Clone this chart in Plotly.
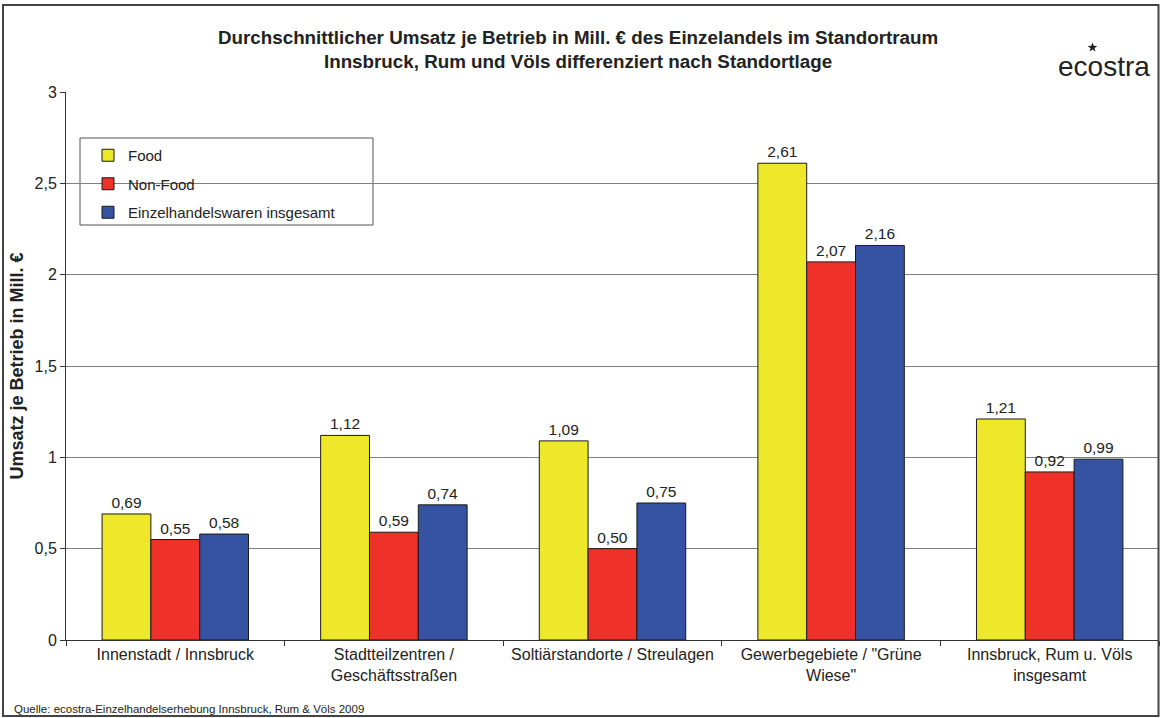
import plotly.graph_objects as go
import math

categories = ["Innenstadt / Innsbruck", "Stadtteilzentren /<br>Geschäftsstraßen",
              "Soltiärstandorte / Streulagen", "Gewerbegebiete / \"Grüne<br>Wiese\"",
              "Innsbruck, Rum u. Völs<br>insgesamt"]
food = [0.69, 1.12, 1.09, 2.61, 1.21]
non_food = [0.55, 0.59, 0.50, 2.07, 0.92]
insgesamt = [0.58, 0.74, 0.75, 2.16, 0.99]
series_names = ["Food", "Non-Food", "Einzelhandelswaren insgesamt"]
colors = ["#EDE82A", "#EE3129", "#3653A3"]

W, H = 1160, 718
L, R, T, B = 66, 1159, 92, 640
pw, ph = R - L, B - T

def px(x):
    return (x - L) / pw

def py(y):
    return (B - y) / ph

FONT = "Liberation Sans, Arial, Helvetica"

fig = go.Figure()
for i, (name, vals) in enumerate(zip(series_names, [food, non_food, insgesamt])):
    fig.add_trace(go.Bar(
        x=categories, y=vals, name=name, legendgroup=name,
        marker=dict(color=colors[i], line=dict(color="#1a1a1a", width=1)),
        text=[f"{v:.2f}".replace(".", ",") for v in vals],
        textposition="outside", cliponaxis=False,
        textfont=dict(size=15.5, color="#222", family=FONT),
    ))

# small star decoration of the logo (drawn as a path)
cx, cy, ro, ri = 1092.5, 47.5, 5.0, 2.1
pts = []
for k in range(10):
    r = ro if k % 2 == 0 else ri
    a = -math.pi / 2 + k * math.pi / 5
    pts.append((cx + r * math.cos(a), cy + r * math.sin(a)))
star_path = "M " + " L ".join(f"{px(x):.5f},{py(y):.5f}" for x, y in pts) + " Z"

fig.update_layout(
    width=W, height=H,
    margin=dict(l=L, r=W - R, t=T, b=H - B),
    paper_bgcolor="white", plot_bgcolor="white",
    barmode="group", bargap=0.33, bargroupgap=0,
    separators=",.",
    font=dict(family=FONT, size=15, color="#222"),
    showlegend=True,
    legend=dict(x=px(88), y=py(139), xanchor="left", yanchor="top",
                bgcolor="rgba(0,0,0,0)", borderwidth=0,
                traceorder="grouped", tracegroupgap=6,
                font=dict(size=15, color="#222")),
    xaxis=dict(showline=True, linecolor="#333", linewidth=1,
               ticks="outside", ticklen=5, tickcolor="#333", tickson="boundaries",
               tickfont=dict(size=16, color="#222")),
    yaxis=dict(range=[0, 3], dtick=0.5, showline=True, linecolor="#333", linewidth=1,
               ticks="outside", ticklen=5, tickcolor="#333",
               showgrid=True, gridcolor="#808080", gridwidth=1,
               tickfont=dict(size=16, color="#222"), tickformat=".1~f",
               title=dict(text="<b>Umsatz je Betrieb in Mill. €</b>", font=dict(size=18, color="#222"),
                          standoff=6)),
    shapes=[
        dict(type="rect", xref="paper", yref="paper",
             x0=px(80), x1=px(373), y0=py(225), y1=py(138),
             line=dict(color="#555", width=1), fillcolor="white", layer="below"),
        dict(type="rect", xref="paper", yref="paper",
             x0=px(3), x1=px(1158.5), y0=py(716), y1=py(5),
             line=dict(color="#444", width=2), fillcolor="rgba(0,0,0,0)"),
        dict(type="path", xref="paper", yref="paper", path=star_path,
             fillcolor="#222", line=dict(width=0)),
    ],
    annotations=[
        dict(text="<b>Durchschnittlicher Umsatz je Betrieb in Mill. € des Einzelandels im Standortraum<br>Innsbruck, Rum und Völs differenziert nach Standortlage</b>",
             xref="paper", yref="paper", x=px(578), y=py(50), xanchor="center", yanchor="middle",
             showarrow=False, font=dict(size=18.8, color="#222")),
        dict(text="ecostra", xref="paper", yref="paper", x=px(1152), y=py(67),
             xanchor="right", yanchor="middle", showarrow=False,
             font=dict(size=28, color="#222", family=FONT)),
        dict(text="Quelle: ecostra-Einzelhandelserhebung Innsbruck, Rum & Völs 2009",
             xref="paper", yref="paper", x=px(12), y=py(709), xanchor="left", yanchor="middle",
             showarrow=False, font=dict(size=11.5, color="#222")),
    ],
)

fig.write_html("out.html")
